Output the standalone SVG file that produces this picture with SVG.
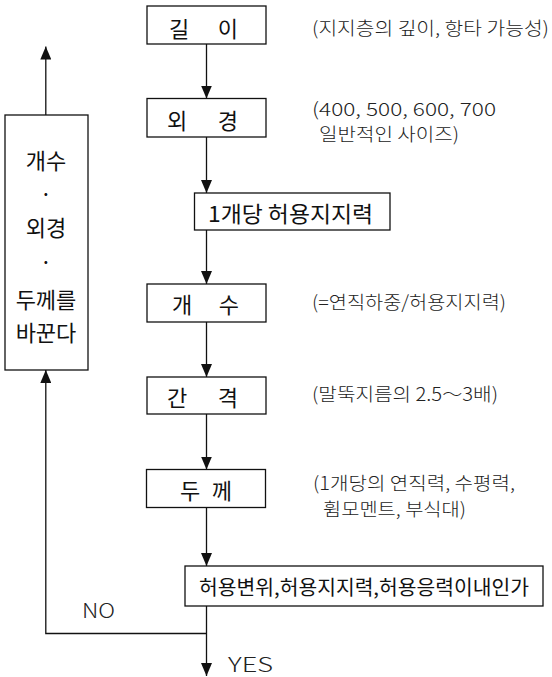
<svg xmlns="http://www.w3.org/2000/svg" width="552" height="677" viewBox="0 0 552 677">
<style>
.box{fill:#fff;stroke:#111;stroke-width:1.3}
.lbl{font-family:"Noto Sans CJK KR","Noto Sans",sans-serif;font-size:22px;fill:#111;dominant-baseline:central}
.ann{font-family:"Noto Sans CJK KR","Noto Sans",sans-serif;font-size:18.5px;fill:#222;font-weight:300;dominant-baseline:central}
.yn{font-family:"Noto Sans CJK KR","Noto Sans",sans-serif;font-size:20px;fill:#222;font-weight:300;dominant-baseline:central}
.conn{fill:none;stroke:#111;stroke-width:1.3}
</style>
<defs>
<marker id="ah" viewBox="0 0 13 11" refX="13" refY="5.5" markerWidth="13" markerHeight="11" markerUnits="userSpaceOnUse" orient="auto">
<path d="M0,0 L13,5.5 L0,11 z" fill="#111"/>
</marker>
</defs>
<rect width="552" height="677" fill="#fff"/>
<g id="connectors">
<line class="conn" x1="206.5" y1="44" x2="206.5" y2="98.5" marker-end="url(#ah)"/>
<line class="conn" x1="206.5" y1="137" x2="206.5" y2="193" marker-end="url(#ah)"/>
<line class="conn" x1="206.5" y1="230" x2="206.5" y2="284" marker-end="url(#ah)"/>
<line class="conn" x1="206.5" y1="322" x2="206.5" y2="377" marker-end="url(#ah)"/>
<line class="conn" x1="206.5" y1="414" x2="206.5" y2="469.5" marker-end="url(#ah)"/>
<line class="conn" x1="206.5" y1="507.5" x2="206.5" y2="566" marker-end="url(#ah)"/>
<line class="conn" x1="206.5" y1="606" x2="206.5" y2="676" marker-end="url(#ah)"/>
<polyline class="conn" points="206.5,633.5 45.8,633.5 45.8,370" marker-end="url(#ah)"/>
<line class="conn" x1="45.8" y1="115" x2="45.8" y2="46.5" marker-end="url(#ah)"/>
<text class="yn" x="82" y="609" textLength="33" lengthAdjust="spacingAndGlyphs">NO</text>
<text class="yn" x="228" y="663" textLength="45" lengthAdjust="spacingAndGlyphs">YES</text>
</g>
<g id="n-length">
<rect class="box" x="147" y="6" width="119" height="38"/>
<text class="lbl" x="169" y="27" textLength="69" lengthAdjust="spacing">길 이</text>
<text class="ann" x="312" y="27" textLength="237" lengthAdjust="spacingAndGlyphs">(지지층의 깊이, 항타 가능성)</text>
</g>
<g id="n-diameter">
<rect class="box" x="147" y="98.5" width="119" height="38.5"/>
<text class="lbl" x="167" y="118.5" textLength="71" lengthAdjust="spacing">외 경</text>
<text class="ann" x="312" y="107.5" textLength="184" lengthAdjust="spacingAndGlyphs">(400, 500, 600, 700</text>
<text class="ann" x="319" y="133" textLength="140" lengthAdjust="spacingAndGlyphs">일반적인 사이즈)</text>
</g>
<g id="n-capacity">
<rect class="box" x="194.5" y="193" width="195.5" height="37"/>
<text class="lbl" x="208" y="212" textLength="165" lengthAdjust="spacingAndGlyphs">1개당 허용지지력</text>
</g>
<g id="n-count">
<rect class="box" x="147" y="284" width="119" height="38"/>
<text class="lbl" x="172" y="303" textLength="67" lengthAdjust="spacing">개 수</text>
<text class="ann" x="312" y="301" textLength="194" lengthAdjust="spacingAndGlyphs">(=연직하중/허용지지력)</text>
</g>
<g id="n-spacing">
<rect class="box" x="147" y="377" width="119" height="37"/>
<text class="lbl" x="167" y="396" textLength="71" lengthAdjust="spacing">간 격</text>
<text class="ann" x="312" y="393" textLength="186" lengthAdjust="spacingAndGlyphs">(말뚝지름의 2.5～3배)</text>
</g>
<g id="n-thickness">
<rect class="box" x="146.5" y="469.5" width="119" height="38"/>
<text class="lbl" x="180" y="489" textLength="52" lengthAdjust="spacing">두 께</text>
<text class="ann" x="313" y="482" textLength="202" lengthAdjust="spacingAndGlyphs">(1개당의 연직력, 수평력,</text>
<text class="ann" x="323" y="508" textLength="143" lengthAdjust="spacingAndGlyphs">휨모멘트, 부식대)</text>
</g>
<g id="n-check">
<rect class="box" x="185" y="566" width="358" height="40"/>
<text class="lbl" x="199" y="586.5" textLength="330" lengthAdjust="spacingAndGlyphs" style="font-size:20px">허용변위,허용지지력,허용응력이내인가</text>
</g>
<g id="n-change">
<rect class="box" x="5" y="115" width="83" height="255"/>
<text class="lbl" x="46" y="159" text-anchor="middle">개수</text>
<text class="lbl" x="46" y="192" text-anchor="middle">·</text>
<text class="lbl" x="46" y="225.5" text-anchor="middle">외경</text>
<text class="lbl" x="46" y="260" text-anchor="middle">·</text>
<text class="lbl" x="46" y="298" text-anchor="middle">두께를</text>
<text class="lbl" x="46" y="331" text-anchor="middle">바꾼다</text>
</g>
</svg>
